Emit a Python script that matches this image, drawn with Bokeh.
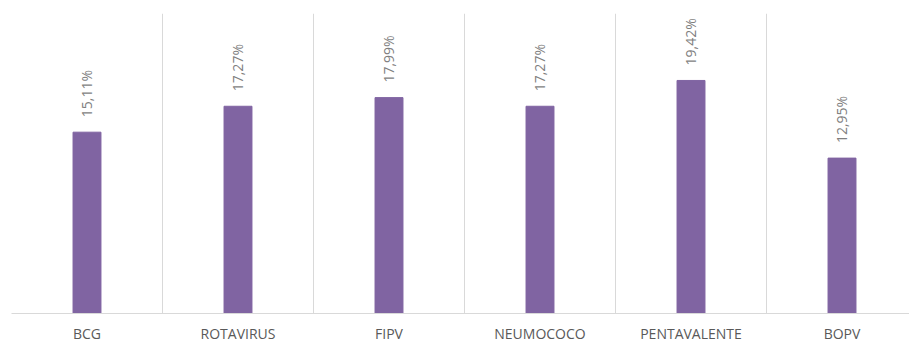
import math
from bokeh.plotting import figure
from bokeh.models import ColumnDataSource, Range1d, FixedTicker, LabelSet, Grid
from bokeh.core.properties import value
from bokeh.embed import file_html
from bokeh.resources import INLINE

categories = ["BCG", "ROTAVIRUS", "FIPV", "NEUMOCOCO", "PENTAVALENTE", "BOPV"]
values = [15.11, 17.27, 17.99, 17.27, 19.42, 12.95]
labels = ["15,11%", "17,27%", "17,99%", "17,27%", "19,42%", "12,95%"]

xs = [i + 0.5 for i in range(len(categories))]
src = ColumnDataSource(dict(x=xs, top=values, lab=labels))

p = figure(width=909, height=345, output_backend="svg", toolbar_location=None,
           x_range=Range1d(0, 5.947), y_range=Range1d(0, 25),
           min_border_left=11, min_border_right=0, min_border_top=13, min_border_bottom=0)
p.outline_line_color = None
p.background_fill_color = "white"
p.border_fill_color = "white"

p.vbar(x="x", top="top", bottom=0, width=0.185, source=src,
       fill_color="#8064A2", line_color="#8064A2")

ls = LabelSet(x="x", y="top", text="lab", source=src, angle=math.pi / 2,
              text_align="left", text_baseline="middle", y_offset=15,
              text_font=value("Open Sans"), text_font_size="14px", text_color="#7f7f7f")
p.add_layout(ls)

p.yaxis.visible = False
p.ygrid.visible = False
p.xgrid.visible = False
p.add_layout(Grid(dimension=0, ticker=FixedTicker(ticks=list(range(len(categories) + 1))),
                  grid_line_color="#d9d9d9", grid_line_width=1))

ax = p.xaxis[0]
ax.ticker = FixedTicker(ticks=xs)
ax.major_label_overrides = {x: c for x, c in zip(xs, categories)}
ax.major_tick_line_color = None
ax.minor_tick_line_color = None
ax.major_tick_out = 0
ax.major_tick_in = 0
ax.axis_line_color = "#d9d9d9"
ax.axis_line_width = 1
ax.major_label_text_font = "Open Sans"
ax.major_label_text_font_size = "14px"
ax.major_label_text_color = "#595959"
ax.major_label_standoff = 10

open("out.html", "w").write(file_html(p, INLINE))
